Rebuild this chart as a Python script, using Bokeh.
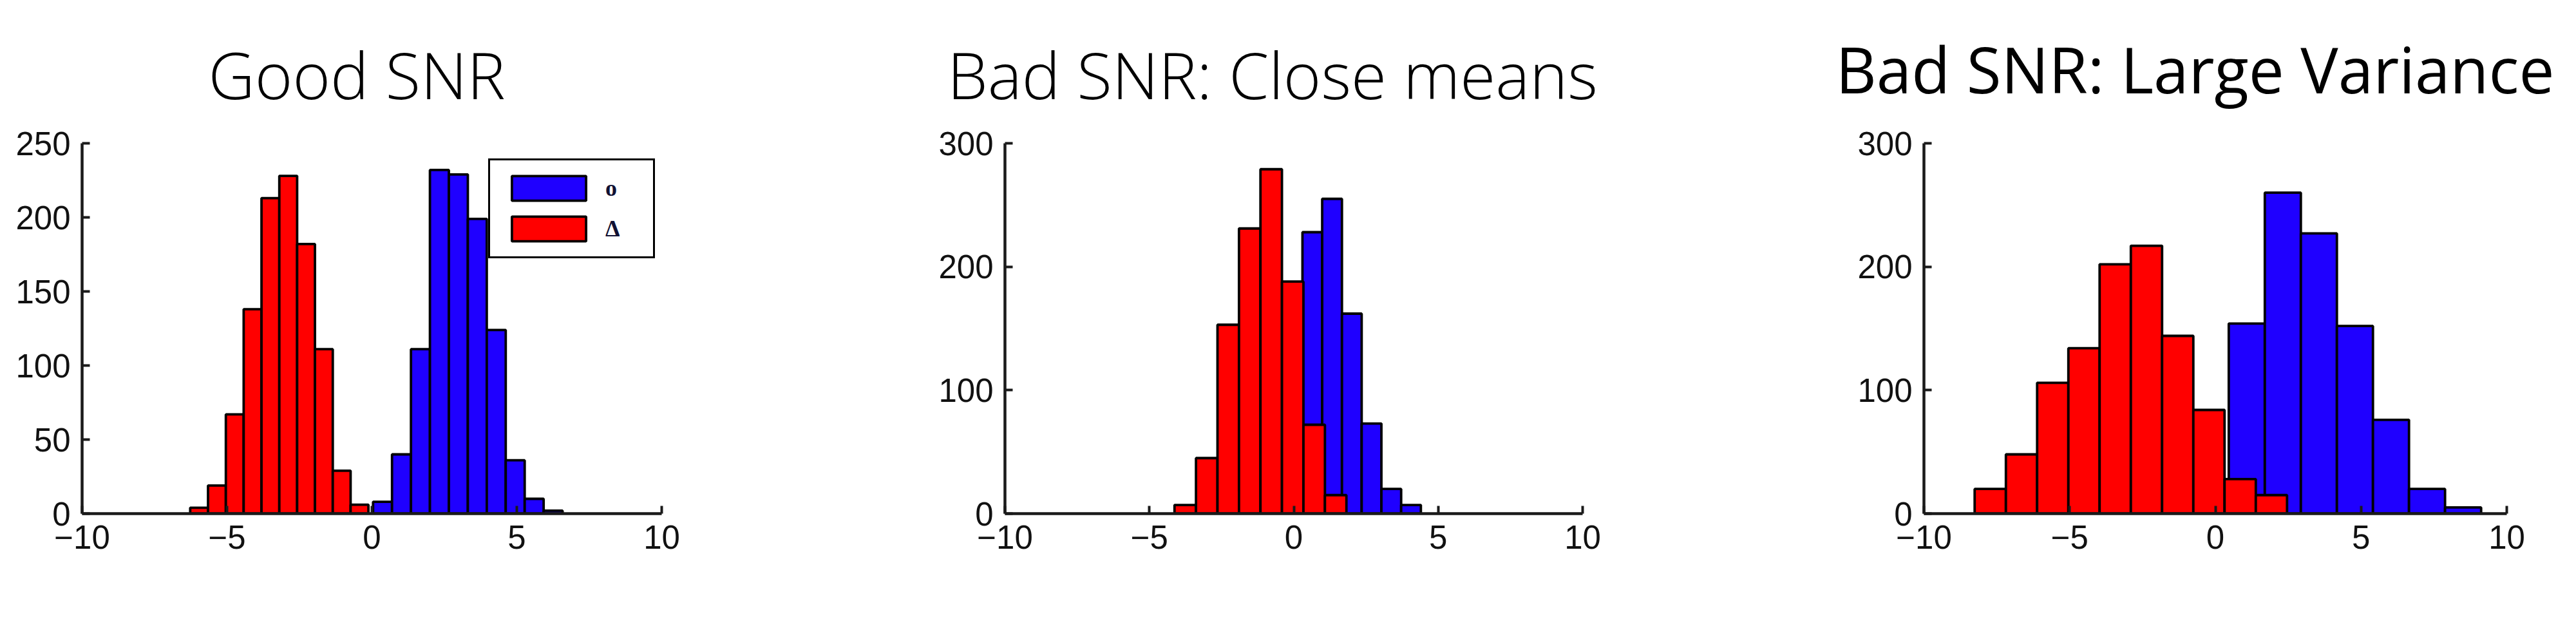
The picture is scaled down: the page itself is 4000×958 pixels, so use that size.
from bokeh.plotting import figure
from bokeh.layouts import row, column
from bokeh.models import Range1d, FixedTicker, Label, Legend, LegendItem
from bokeh.embed import file_html
from bokeh.resources import INLINE

# ---------------- data ----------------
titles = ["Good SNR", "Bad SNR: Close means", "Bad SNR: Large Variance"]
legend_labels = ["o", "\u0394"]
x_ticks = [-10, -5, 0, 5, 10]
x_tick_labels = ["\u221210", "\u22125", "0", "5", "10"]
y_ticks_good = [0, 50, 100, 150, 200, 250]
y_ticks_bad = [0, 100, 200, 300]
y_max = [250, 300, 300]

# Good SNR
good_blue_edges = [0.04, 0.694, 1.348, 2.002, 2.656, 3.31, 3.964, 4.618, 5.272, 5.926, 6.58]
good_blue_counts = [8, 40, 111, 232, 229, 199, 124, 36, 10, 2]
good_red_edges = [-6.27, -5.655, -5.04, -4.425, -3.81, -3.195, -2.58, -1.965, -1.35, -0.735, -0.12]
good_red_counts = [4, 19, 67, 138, 213, 228, 182, 111, 29, 6]

# Bad SNR: close means (blue bars visible right of the red ones)
close_blue_edges = [0.30, 0.983, 1.667, 2.35, 3.033, 3.717, 4.40]
close_blue_counts = [228, 255, 162, 73, 20, 7]
close_red_edges = [-4.13, -3.386, -2.642, -1.898, -1.154, -0.41, 0.334, 1.078, 1.822]
close_red_counts = [7, 45, 153, 231, 279, 188, 72, 15]

# Bad SNR: large variance
var_blue_edges = [0.46, 1.697, 2.934, 4.171, 5.408, 6.645, 7.882, 9.12]
var_blue_counts = [154, 260, 227, 152, 76, 20, 5]
var_red_edges = [-8.26, -7.188, -6.116, -5.044, -3.972, -2.90, -1.828, -0.756, 0.316, 1.388, 2.46]
var_red_counts = [20, 48, 106, 134, 202, 217, 144, 84, 28, 15]

BLUE = "#1f00ff"
RED = "#ff0000"
AXIS = "#1a1a1a"

PAGE_W = 3984
TITLE_H = 183
PLOT_H = 759

# ---------------- title strip ----------------
tfig = figure(width=PAGE_W, height=TITLE_H, output_backend="svg", toolbar_location=None,
              x_range=Range1d(0, PAGE_W), y_range=Range1d(0, TITLE_H),
              x_axis_type=None, y_axis_type=None, min_border=0)
tfig.outline_line_color = None
tfig.grid.visible = False
tfig.background_fill_color = "white"
tfig.border_fill_color = "white"
title_pos = [(559, 69, "center", "100px"), (1992, 69, "center", "100px"),
             (2850, 77, "left", "98px")]
for t, (tx, ty, ta, fs) in zip(titles, title_pos):
    tfig.add_layout(Label(x=tx, y=ty, text=t, text_font="Open Sans", text_font_size=fs,
                          text_color="black", text_align=ta, text_baseline="alphabetic"))


def make_panel(width, bl, br, bt, bb, ymax, yticks, blue_e, blue_c, red_e, red_c):
    p = figure(width=width, height=PLOT_H, output_backend="svg", toolbar_location=None,
               x_range=Range1d(-10, 10), y_range=Range1d(0, ymax),
               min_border_left=bl, min_border_right=br, min_border_top=bt, min_border_bottom=bb)
    p.background_fill_color = "white"
    p.border_fill_color = "white"
    p.outline_line_color = None
    p.grid.visible = False

    rb = p.quad(left=blue_e[:-1], right=blue_e[1:], bottom=0, top=blue_c,
                fill_color=BLUE, line_color="black", line_width=3.8)
    rr = p.quad(left=red_e[:-1], right=red_e[1:], bottom=0, top=red_c,
                fill_color=RED, line_color="black", line_width=3.8)

    p.xaxis.ticker = FixedTicker(ticks=x_ticks)
    p.xaxis.major_label_overrides = dict(zip(x_ticks, x_tick_labels))
    p.yaxis.ticker = FixedTicker(ticks=yticks)
    for ax in p.axis:
        ax.axis_line_width = 4.5
        ax.axis_line_color = AXIS
        ax.major_tick_line_width = 4
        ax.major_tick_line_color = AXIS
        ax.major_tick_in = 12
        ax.major_tick_out = 0
        ax.minor_tick_line_color = None
        ax.major_label_text_font = "Liberation Sans"
        ax.major_label_text_font_size = "51px"
        ax.major_label_text_color = "#111111"
    p.yaxis.major_label_standoff = 18
    p.xaxis.major_label_standoff = 18
    return p, rb, rr


p1, b1, r1 = make_panel(1340, 127, 313, 29, 145, y_max[0], y_ticks_good,
                        good_blue_edges, good_blue_counts, good_red_edges, good_red_counts)
legend = Legend(items=[LegendItem(label=legend_labels[0], renderers=[b1]),
                       LegendItem(label=legend_labels[1], renderers=[r1])],
                location=(631, 396), orientation="vertical",
                glyph_width=144, glyph_height=48, label_standoff=16, label_width=55,
                label_height=48, padding=19, spacing=15,
                border_line_color="black", border_line_width=3.5, border_line_alpha=1.0,
                background_fill_color="white", background_fill_alpha=1.0,
                label_text_font="Liberation Serif", label_text_font_size="36px",
                label_text_line_height=1.0,
                label_text_font_style="bold", label_text_color="#111133")
p1.add_layout(legend)

p2, _, _ = make_panel(1512, 220, 395, 29, 145, y_max[1], y_ticks_bad,
                      close_blue_edges, close_blue_counts, close_red_edges, close_red_counts)

p3, _, _ = make_panel(1132, 135, 92, 39, 134, y_max[2], y_ticks_bad,
                      var_blue_edges, var_blue_counts, var_red_edges, var_red_counts)

layout = column(tfig, row(p1, p2, p3))
open("out.html", "w").write(file_html(layout, INLINE))
